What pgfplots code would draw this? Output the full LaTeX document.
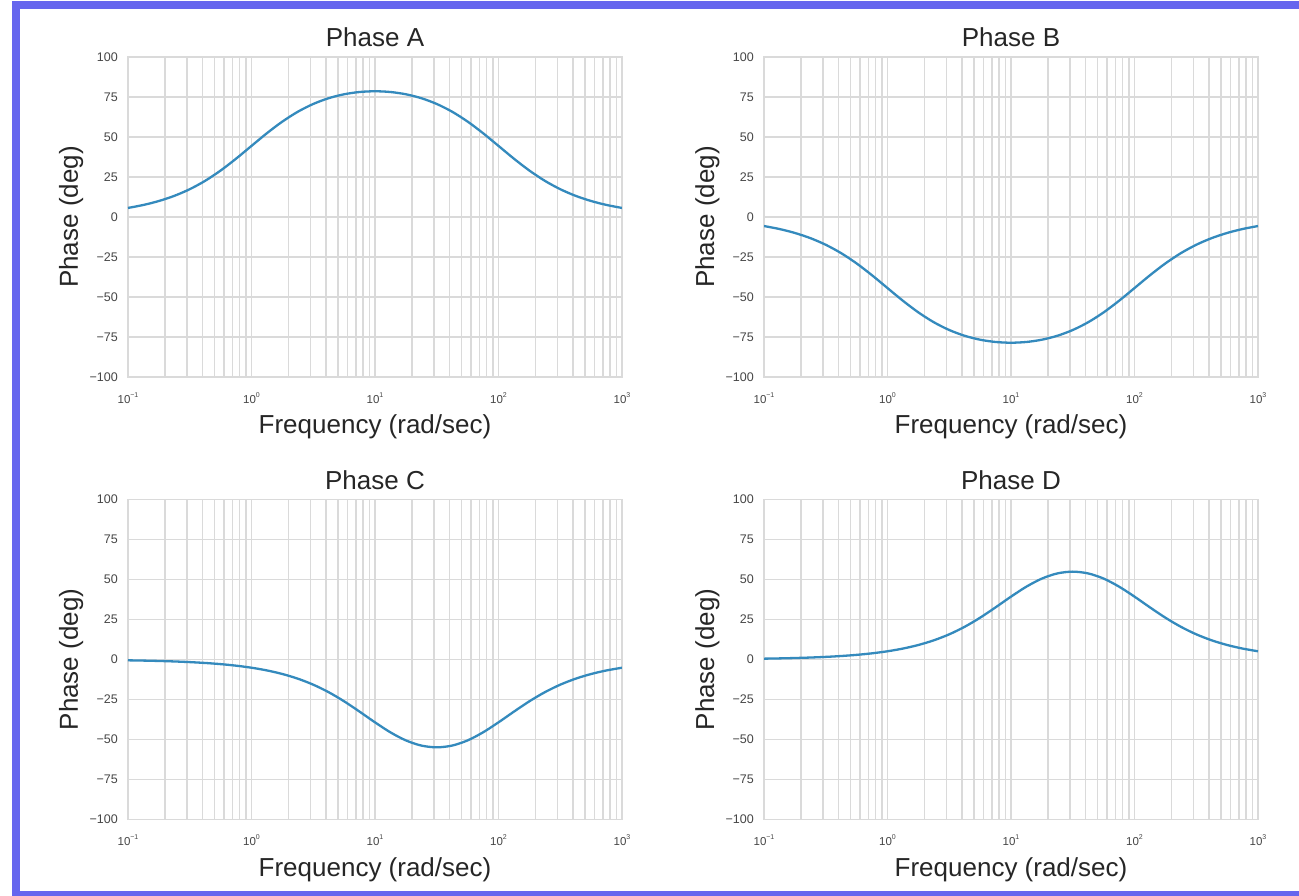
\documentclass[border=0pt]{standalone}
\usepackage{fontspec}
\setmainfont{Liberation Sans}
\usepackage{pgfplots}
\usepackage{pgfplotstable}
\pgfplotsset{compat=1.18}
\definecolor{frameblue}{RGB}{102,102,238}
\definecolor{gridgray}{RGB}{218,218,218}
\definecolor{textgray}{RGB}{38,38,38}
\definecolor{tickgray}{RGB}{70,70,70}
\definecolor{lineblue}{RGB}{52,138,189}
\newcommand{\mysup}[1]{\raisebox{0.55em}{\fontsize{7}{8}\selectfont #1}}

\pgfplotstableread{
w A B C D
0.1 5.653 -5.653 -0.516 0.516
0.133352 7.519 -7.519 -0.688 0.688
0.177828 9.982 -9.982 -0.917 0.917
0.237137 13.205 -13.205 -1.223 1.223
0.316228 17.367 -17.367 -1.630 1.630
0.421697 22.623 -22.623 -2.173 2.173
0.562341 29.029 -29.029 -2.896 2.896
0.749894 36.436 -36.436 -3.859 3.859
1 44.427 -44.427 -5.138 5.138
1.333521 52.370 -52.370 -6.832 6.832
1.778279 59.630 -59.630 -9.065 9.065
2.371374 65.777 -65.777 -11.982 11.982
3.162278 70.640 -70.640 -15.737 15.737
4.216965 74.245 -74.245 -20.450 20.450
5.623413 76.698 -76.698 -26.132 26.132
7.498942 78.116 -78.116 -32.578 32.578
10 78.579 -78.579 -39.289 39.289
13.33521 78.116 -78.116 -45.538 45.538
17.78279 76.698 -76.698 -50.566 50.566
23.71374 74.245 -74.245 -53.795 53.795
31.62278 70.640 -70.640 -54.903 54.903
42.16965 65.777 -65.777 -53.795 53.795
56.23413 59.630 -59.630 -50.566 50.566
74.98942 52.370 -52.370 -45.538 45.538
100 44.427 -44.427 -39.289 39.289
133.3521 36.436 -36.436 -32.578 32.578
177.8279 29.029 -29.029 -26.132 26.132
237.1374 22.623 -22.623 -20.450 20.450
316.2278 17.367 -17.367 -15.737 15.737
421.6965 13.205 -13.205 -11.982 11.982
562.3413 9.982 -9.982 -9.065 9.065
749.8942 7.519 -7.519 -6.832 6.832
1000 5.653 -5.653 -5.138 5.138
}\data

\pgfplotsset{
  every axis title shift=0pt,
  every axis/.append style={
    scale only axis, width=494pt, height=320pt,
    xmin=0.1, xmax=1000, ymin=-100, ymax=100,
    xtick={0.1,1,10,100,1000},
    xticklabels={10\mysup{−1},10\mysup{0},10\mysup{1},10\mysup{2},10\mysup{3}},
    minor xtick={0.2,0.3,0.4,0.5,0.6,0.7,0.8,0.9,2,3,4,5,6,7,8,9,20,30,40,50,60,70,80,90,200,300,400,500,600,700,800,900},
    ytick={-100,-75,-50,-25,0,25,50,75,100},
    yticklabels={−100,−75,−50,−25,0,25,50,75,100},
    major tick length=0pt, minor tick length=0pt,
    xmajorgrids, xminorgrids, ymajorgrids,
    major grid style={draw=gridgray, line width=1.4pt},
    minor grid style={draw=gridgray, line width=1.4pt},
    axis line style={draw=gridgray, line width=1.4pt},
    yticklabel style={font=\fontsize{12.5}{14}\selectfont, text=tickgray, anchor=east, inner sep=0pt, xshift=-10pt},
    xticklabel style={font=\fontsize{11.5}{13}\selectfont, text=tickgray, anchor=north, inner sep=0pt, yshift=-15pt},
    title style={font=\fontsize{26}{30}\selectfont, text=textgray, at={(axis description cs:0.5,1)}, anchor=base, yshift=10pt, inner sep=0pt},
    xlabel style={font=\fontsize{26}{30}\selectfont, text=textgray, at={(axis description cs:0.5,0)}, anchor=base, yshift=-57pt, inner sep=0pt},
    ylabel style={font=\fontsize{26}{30}\selectfont, text=textgray, at={(axis description cs:0,0.5)}, anchor=base, inner sep=0pt, yshift=50pt},
  },
  every axis plot post/.append style={draw=lineblue, line width=2.3pt, smooth, mark=none},
}

\begin{document}
\begin{tikzpicture}
\path[use as bounding box] (0,0) rectangle (1299pt,896pt);
\fill[white] (0,0) rectangle (1299pt,896pt);
\fill[frameblue] (12pt,0pt) rectangle (19.5pt,894.5pt);
\fill[frameblue] (12pt,887pt) rectangle (1299pt,894.5pt);
\fill[frameblue] (12pt,0pt) rectangle (1299pt,4.5pt);

\begin{axis}[xmode=log, at={(128pt,519pt)}, anchor=south west, title={Phase A}, xlabel={Frequency (rad/sec)}, ylabel={Phase (deg)}]
\addplot table[x=w,y=A] {\data};
\end{axis}
\begin{axis}[xmode=log, at={(764pt,519pt)}, anchor=south west, title={Phase B}, xlabel={Frequency (rad/sec)}, ylabel={Phase (deg)}]
\addplot table[x=w,y=B] {\data};
\end{axis}
\begin{axis}[xmode=log, at={(128pt,76.5pt)}, anchor=south west, title={Phase C}, xlabel={Frequency (rad/sec)}, ylabel={Phase (deg)}]
\addplot table[x=w,y=C] {\data};
\end{axis}
\begin{axis}[xmode=log, at={(764pt,76.5pt)}, anchor=south west, title={Phase D}, xlabel={Frequency (rad/sec)}, ylabel={Phase (deg)}]
\addplot table[x=w,y=D] {\data};
\end{axis}
\end{tikzpicture}
\end{document}
